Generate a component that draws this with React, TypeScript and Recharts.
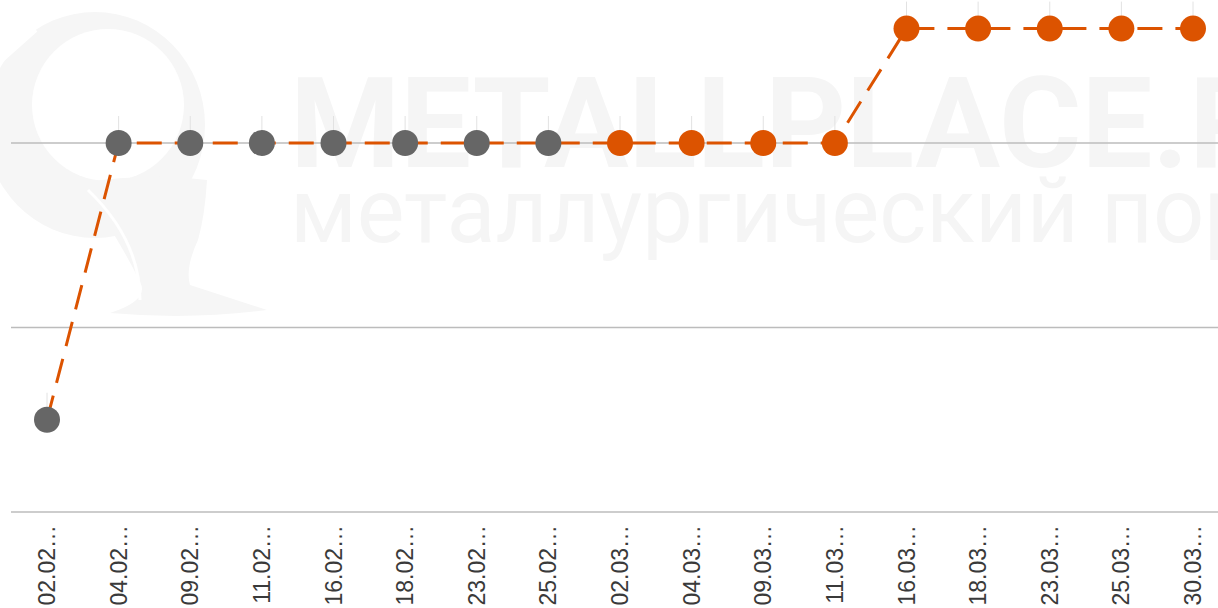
import React from 'react';
import { LineChart, Line, XAxis, YAxis, ReferenceLine } from 'recharts';

const dates = [
  '02.02…', '04.02…', '09.02…', '11.02…', '16.02…', '18.02…', '23.02…', '25.02…',
  '02.03…', '04.03…', '09.03…', '11.03…', '16.03…', '18.03…', '23.03…', '25.03…', '30.03…',
];
const prices = [105, 120, 120, 120, 120, 120, 120, 120, 120, 120, 120, 120, 126.2, 126.2, 126.2, 126.2, 126.2];
const isForecast = [
  false, false, false, false, false, false, false, false,
  true, true, true, true, true, true, true, true, true,
];
const yTicks = [100, 110, 120];

const data = dates.map((d, i) => ({ date: d, price: prices[i], forecast: isForecast[i] }));

const ORANGE = '#dc5300';
const GREY = '#666666';
const WM = '#f6f6f6';

function Dot(props: any) {
  const { cx, cy, payload, index } = props;
  return (
    <g key={`dot-${index}`}>
      <line x1={cx} x2={cx} y1={cy - 27} y2={cy - 13} stroke="#e2e2e2" strokeWidth={1} />
      <circle cx={cx} cy={cy} r={13} fill={payload.forecast ? ORANGE : GREY} />
    </g>
  );
}

function DateTick(props: any) {
  const { x, payload } = props;
  const y = 525;
  return (
    <text
      x={x}
      y={y}
      transform={`rotate(-90 ${x} ${y})`}
      textAnchor="end"
      dominantBaseline="central"
      fontSize={23}
      fill="#3a3a3a"
      fontFamily="'Liberation Sans', Arial, sans-serif"
    >
      {payload.value}
    </text>
  );
}

// faint site watermark behind the chart
function Watermark() {
  return (
    <div style={{ position: 'absolute', left: 0, top: 0, width: 1218, height: 608, overflow: 'hidden' }}>
      <svg width={300} height={330} style={{ position: 'absolute', left: 0, top: 0 }}>
        <ellipse cx={95} cy={125} rx={110} ry={113} fill={WM} />
        <ellipse cx={108} cy={105} rx={76} ry={76} fill="#fff" />
        <path d="M0 62 L36 30" stroke="#fff" strokeWidth={4} />
        <path d="M80 183 Q150 172 207 180 Q205 215 198 240 Q185 268 190 285 Q230 298 267 310 Q190 320 110 313 Q150 300 140 282 Q120 240 80 183 Z" fill={WM} />
        <path d="M88 190 Q140 240 140 300" stroke="#fff" strokeWidth={3} fill="none" />
      </svg>
      <div style={{
        position: 'absolute', left: 290, top: 61, fontFamily: 'Roboto, Arial, sans-serif', fontWeight: 700,
        fontSize: 126, color: '#f5f5f5', whiteSpace: 'nowrap', lineHeight: 1,
      }}>METALLPLACE.RU</div>
      <div style={{
        position: 'absolute', left: 290, top: 167, fontFamily: 'Roboto, Arial, sans-serif', fontWeight: 400,
        fontSize: 90, color: '#f5f5f5', whiteSpace: 'nowrap', lineHeight: 1,
      }}>металлургический портал</div>
    </div>
  );
}

export default function App() {
  return (
    <div style={{ position: 'absolute', left: 0, top: 0, width: 1218, height: 608, overflow: 'hidden', background: '#fff' }}>
      <Watermark />
      <div style={{ position: 'absolute', left: 0, top: 0 }}>
        <LineChart width={1218} height={608} data={data} margin={{ top: 0, right: 0, left: 11, bottom: 0 }}>
          <XAxis
            dataKey="date"
            height={96}
            interval={0}
            padding={{ left: 36, right: 25 }}
            axisLine={false}
            tickLine={false}
            tick={<DateTick />}
          />
          <YAxis hide domain={[100, 127.75]} ticks={yTicks} />
          {yTicks.map((v) => (
            <ReferenceLine key={v} y={v} stroke="#bcbcbc" strokeWidth={1.3} />
          ))}
          <Line
            type="linear"
            dataKey="price"
            stroke={ORANGE}
            strokeWidth={3}
            strokeDasharray="25 13"
            dot={<Dot />}
            activeDot={false}
            isAnimationActive={false}
          />
        </LineChart>
      </div>
    </div>
  );
}
